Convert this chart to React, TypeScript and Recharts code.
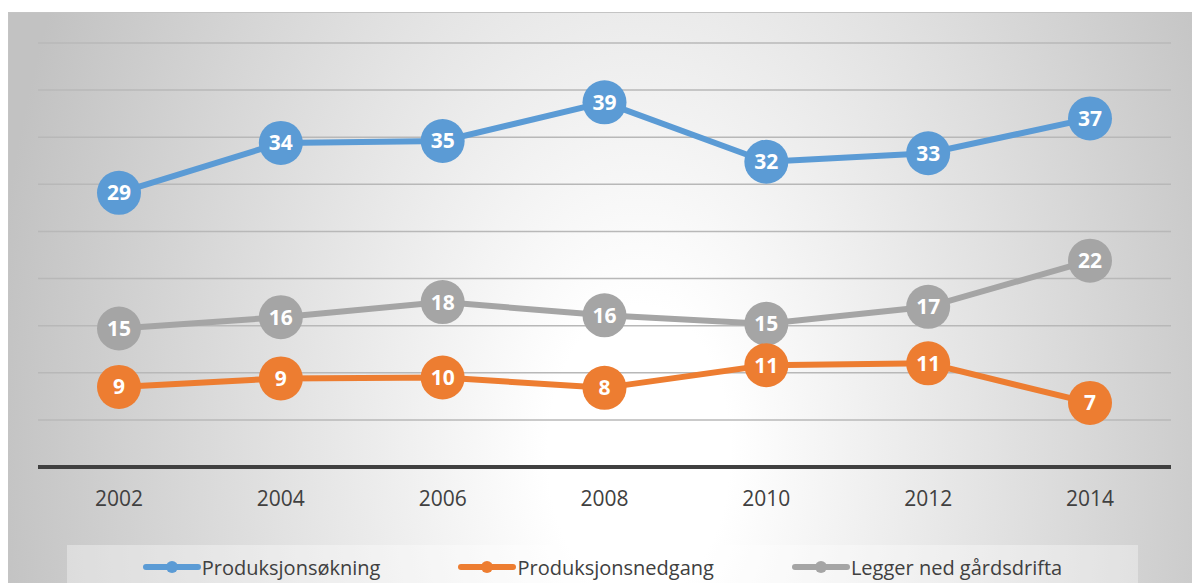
import React from "react";
import { LineChart, Line, XAxis, YAxis, CartesianGrid, Legend, LabelList } from "recharts";

// values (labels show them rounded)
const years = ["2002", "2004", "2006", "2008", "2010", "2012", "2014"];
const produksjonsokning = [29.1, 34.4, 34.6, 38.7, 32.4, 33.3, 37.0];
const produksjonsnedgang = [8.5, 9.4, 9.5, 8.4, 10.8, 11.0, 6.8];
const leggerNed = [14.7, 15.9, 17.5, 16.1, 15.2, 17.0, 21.9];
const yTicks = [0, 5, 10, 15, 20, 25, 30, 35, 40, 45];

const series = [
  { key: "okning", name: "Produksjonsøkning", color: "#5b9bd5", values: produksjonsokning },
  { key: "nedgang", name: "Produksjonsnedgang", color: "#ed7d31", values: produksjonsnedgang },
  { key: "legger", name: "Legger ned gårdsdrifta", color: "#a5a5a5", values: leggerNed },
];

// gray is drawn before orange so orange circles sit on top
const drawOrder = ["okning", "legger", "nedgang"];

const data = years.map((year, i) => {
  const row: Record<string, any> = { year };
  series.forEach((s) => (row[s.key] = s.values[i]));
  return row;
});

const renderLegend = (props: any) => {
  const items = [...(props.payload || [])].sort(
    (a: any, b: any) =>
      series.findIndex((s) => s.key === a.dataKey) - series.findIndex((s) => s.key === b.dataKey)
  );
  return (
    <div
      style={{
        display: "flex",
        justifyContent: "center",
        alignItems: "center",
        height: 34,
        paddingTop: 5,
        gap: 78,
        background: "rgba(255,255,255,0.35)",
      }}
    >
      {items.map((entry: any) => (
        <div key={entry.dataKey} style={{ display: "flex", alignItems: "center" }}>
          <svg width={58} height={14}>
            <line x1={3} x2={55} y1={7} y2={7} stroke={entry.color} strokeWidth={6} strokeLinecap="round" />
            <circle cx={29} cy={7} r={6} fill={entry.color} />
          </svg>
          <span style={{ marginLeft: 1, fontSize: 20, color: "#404040" }}>{entry.value}</span>
        </div>
      ))}
    </div>
  );
};

export default function App() {
  return (
    <div
      style={{
        position: "absolute",
        left: 8,
        top: 12,
        width: 1184,
        height: 571,
        overflow: "hidden",
        boxSizing: "border-box",
        borderTop: "1px solid #c4c4c4",
        borderLeft: "1px solid #c4c4c4",
        background: "radial-gradient(ellipse 650px 1050px at 630px 440px, #ffffff 14%, #c2c2c2 100%)",
        fontFamily: "'Open Sans', sans-serif",
      }}
    >
      <LineChart width={1184} height={571} data={data} margin={{ top: 30, right: 22, left: 29, bottom: 0 }}>
        <CartesianGrid vertical={false} stroke="#b8b8b8" strokeWidth={1.5} />
        <XAxis
          dataKey="year"
          padding={{ left: 81, right: 81 }}
          height={78}
          tickLine={false}
          tickSize={0}
          tickMargin={24}
          axisLine={{ stroke: "#404040", strokeWidth: 4 }}
          tick={{ fill: "#404040", fontSize: 21 }}
        />
        <YAxis hide domain={[0, 45]} ticks={yTicks} />
        <Legend
          verticalAlign="bottom"
          content={renderLegend}
          wrapperStyle={{ left: 58, width: 1071, bottom: 0, height: 39 }}
        />
        {drawOrder.map((k) => {
          const s = series.find((x) => x.key === k)!;
          return (
            <Line
              key={s.key}
              dataKey={s.key}
              name={s.name}
              stroke={s.color}
              strokeWidth={6}
              dot={{ r: 22, fill: s.color, strokeWidth: 0 }}
              activeDot={false}
              isAnimationActive={false}
            >
              <LabelList
                dataKey={s.key}
                position="center"
                fill="#ffffff"
                fontSize={21}
                fontWeight={700}
                formatter={(v: any) => Math.round(Number(v))}
              />
            </Line>
          );
        })}
      </LineChart>
    </div>
  );
}
